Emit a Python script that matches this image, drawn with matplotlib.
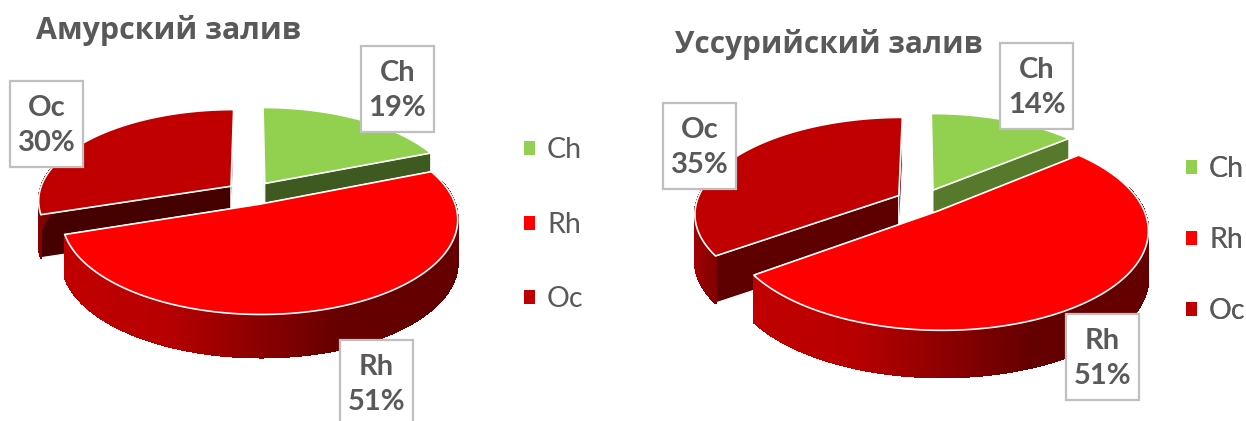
import numpy as np
import matplotlib
matplotlib.use("Agg")
import matplotlib.pyplot as plt
from matplotlib.collections import PolyCollection
from matplotlib.colors import LinearSegmentedColormap
from matplotlib.patches import Polygon, Rectangle

names = ["Ch", "Rh", "Oc"]
amur_values = [19, 51, 30]
ussuri_values = [14, 51, 35]
amur_title = "Амурский залив"
ussuri_title = "Уссурийский залив"

TOP_COLORS = ["#92d050", "#ff0000", "#c00000"]
TEXT = "#595959"
BORDER = "#bfbfbf"


def project(p, X, Y):
    w = 1 + p["k"] * Y
    return p["cx"] + p["R"] * X / w, p["cy"] - p["a"] * Y / w


def draw_wedge(ax, p, start, frac, top, cut, wall):
    mid = np.radians(start + frac / 2)
    ex, ey = p["explode"] * np.sin(mid), p["explode"] * np.cos(mid)
    th = np.radians(np.linspace(start, start + frac, 400))
    X = ex + np.sin(th)
    Y = ey + np.cos(th)
    x, y = project(p, X, Y)
    ax_, ay_ = project(p, ex, ey)
    d = p["depth"]

    # cut faces, only the ones facing the viewer stay uncovered
    for i in [0, -1]:
        ax.add_patch(Polygon([(ax_, ay_), (x[i], y[i]), (x[i], y[i] + d), (ax_, ay_ + d)],
                             facecolor=cut, edgecolor="white", linewidth=0.8))

    # outer wall, strip by strip so the gradient runs left to right
    cmap = LinearSegmentedColormap.from_list("wall", wall)
    front = np.where(Y[:-1] - ey < 0.25)[0]
    if len(front):
        lo, hi = x[front].min(), x[front].max() + 1e-6
        quads, cols = [], []
        for i in front:
            quads.append([(x[i], y[i]), (x[i + 1], y[i + 1]), (x[i + 1], y[i + 1] + d), (x[i], y[i] + d)])
            cols.append(cmap((x[i] - lo) / (hi - lo)))
        ax.add_collection(PolyCollection(quads, facecolors=cols, edgecolors=cols, linewidths=0.8, antialiaseds=False))

    ax.add_patch(Polygon(np.r_[[(ax_, ay_)], np.c_[x, y]], facecolor=top, edgecolor="white", linewidth=1.2))


def draw_pie(ax, values, p, title, title_xy, title_size, boxes, legend_xy, spacing):
    fracs = 360 * np.array(values) / sum(values)
    starts = np.r_[0, np.cumsum(fracs)[:-1]]
    # Rh sits in front, so it goes last
    for i in [0, 2, 1]:
        draw_wedge(ax, p, starts[i], fracs[i], TOP_COLORS[i], p["cut"][i], p["wall"][i])

    for name, val, (bx, by) in zip(names, values, boxes):
        ax.add_patch(Rectangle((bx, by), 73, 86, facecolor="white", edgecolor=BORDER, linewidth=1.6, zorder=5))
        ax.text(bx + 36.5, by + 44.5, f"{name}\n{val}%", ha="center", va="center", color=TEXT, fontsize=21,
                fontweight="bold", fontfamily="Lato", linespacing=1.42, zorder=6)

    ax.text(title_xy[0], title_xy[1], title, ha="left", va="center", color=TEXT, fontsize=title_size,
            fontweight="bold", fontfamily="Open Sans")

    handles = [Rectangle((0, 0), 1, 1, facecolor=c) for c in TOP_COLORS]
    leg = ax.legend(handles, names, loc="upper left", bbox_to_anchor=legend_xy, bbox_transform=ax.transData,
                    frameon=False, labelcolor=TEXT, handlelength=0.39, handleheight=0.39,
                    handletextpad=0.42, labelspacing=spacing, borderpad=0, borderaxespad=0,
                    prop={"family": "Lato", "size": 20.5})
    ax.add_artist(leg)


fig = plt.figure(figsize=(12.46, 4.21), dpi=100)
ax = fig.add_axes([0, 0, 1, 1])
ax.set_xlim(0, 1246)
ax.set_ylim(421, 0)
ax.axis("off")

rh_wall = [(0, "#c00000"), (0.25, "#b80000"), (0.7, "#650000"), (1, "#650000")]
amur = dict(cx=251, cy=193, R=192, a=90, k=0.15, explode=0.13, depth=43,
            cut=["#3f5a20", "#8b0000", "#450000"],
            wall=[["#6f9c3c", "#3f5a20"], rh_wall, ["#8a0000", "#700000"]])
ussuri = dict(cx=922, cy=201, R=202, a=94, k=0.18, explode=0.13, depth=47,
              cut=["#56792c", "#8b0000", "#5e0000"],
              wall=[["#6f9c3c", "#56792c"], rh_wall, ["#a00000", "#800000"]])

draw_pie(ax, amur_values, amur, amur_title, (36, 30), 21.9,
         [(361, 46), (340, 340), (10, 81)], (524, 137.5), 1.7)
draw_pie(ax, ussuri_values, ussuri, ussuri_title, (675, 45), 21.4,
         [(1000, 43), (1066, 314), (663, 103)], (1186, 156), 1.58)

fig.savefig("out.png", dpi=100)
